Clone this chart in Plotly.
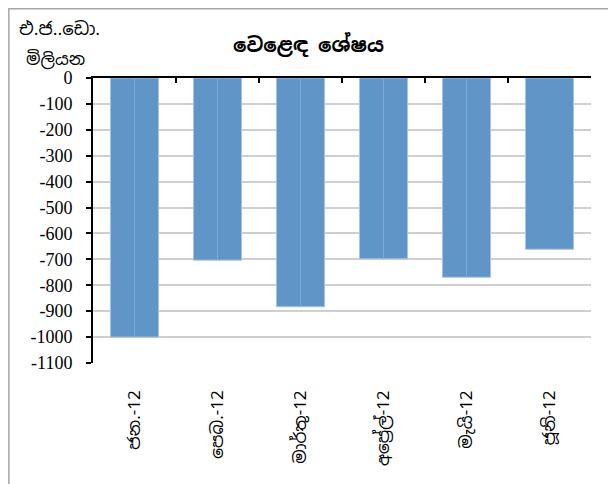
import plotly.graph_objects as go

months = ["ජන.-12", "පෙබ.-12", "මාර්තු-12", "අප්‍රේල්-12", "මැයි-12", "ජූනි-12"]
balance = [-1000, -703, -883, -698, -769, -661]
y_ticks = [0, -100, -200, -300, -400, -500, -600, -700, -800, -900, -1000, -1100]
y_tick_labels = ["0", "-100", "-200", "-300", "-400", "-500", "-600", "-700",
                 "-800", "-900", "-1000", "-1100"]

title_text = "<b>වෙළෙඳ ශේෂය</b>"
unit_line1 = "එ.ජ..ඩො."
unit_line2 = "මිලියන"

sin_font = "Noto Sans Sinhala, Noto Serif Sinhala, sans-serif"
num_font = "Liberation Serif, Times New Roman, serif"

fig = go.Figure()
fig.add_trace(go.Bar(
    x=months, y=balance,
    marker=dict(color="#6095c8", line=dict(color="#a9c4e4", width=1)),
    width=0.58, showlegend=False, hoverinfo="skip",
))
# faint centre seam seen on the first five bars
fig.add_trace(go.Bar(
    x=months[:5], y=balance[:5],
    marker=dict(color="#80aad6", line=dict(width=0)),
    width=0.012, showlegend=False, hoverinfo="skip",
))
# helper trace for the top (zero) axis
fig.add_trace(go.Scatter(x=months, y=[None] * len(months), xaxis="x2", yaxis="y",
                         mode="markers", showlegend=False, hoverinfo="skip"))

fig.update_layout(
    width=616, height=484,
    margin=dict(l=85, r=33, t=70, b=129),
    paper_bgcolor="white", plot_bgcolor="white",
    barmode="overlay",
    xaxis=dict(
        type="category", categoryorder="array", categoryarray=months,
        range=[-0.5, 5.5],
        showline=False, showgrid=False, ticks="",
        tickangle=-90, ticklabelstandoff=23,
        tickfont=dict(family=sin_font, size=17, color="black"),
    ),
    xaxis2=dict(
        type="category", categoryorder="array", categoryarray=months,
        overlaying="x", side="top", anchor="y", matches="x",
        range=[-0.5, 5.5],
        showline=True, linecolor="black", linewidth=2,
        ticks="inside", ticklen=5, tickwidth=1.5, tickcolor="black",
        tickson="boundaries", showticklabels=False, showgrid=False,
    ),
    yaxis=dict(
        range=[-1100, 0], tickmode="array", tickvals=y_ticks, ticktext=y_tick_labels,
        showline=True, linecolor="black", linewidth=2,
        ticks="outside", ticklen=5, tickwidth=1.5, tickcolor="black",
        showgrid=True, gridcolor="#cfcfcf", gridwidth=1.5,
        zeroline=False, ticklabelstandoff=10,
        tickfont=dict(family=num_font, size=18, color="black"),
    ),
    annotations=[
        dict(text=title_text, xref="paper", yref="paper", x=0.432, y=1.116,
             xanchor="center", yanchor="middle", showarrow=False,
             font=dict(family=sin_font, size=20, color="black")),
        dict(text=unit_line1, xref="paper", yref="paper", x=-0.153, y=1.172,
             xanchor="left", yanchor="middle", showarrow=False,
             font=dict(family=sin_font, size=18, color="black")),
        dict(text=unit_line2, xref="paper", yref="paper", x=-0.139, y=1.068,
             xanchor="left", yanchor="middle", showarrow=False,
             font=dict(family=sin_font, size=17, color="black")),
    ],
    shapes=[
        dict(type="rect", xref="paper", yref="paper", x0=-0.169, x1=1.046,
             y0=-0.5, y1=1.243, line=dict(color="#a6a6a6", width=1.5),
             fillcolor="rgba(0,0,0,0)", layer="below"),
    ],
)

fig.write_html("out.html")
